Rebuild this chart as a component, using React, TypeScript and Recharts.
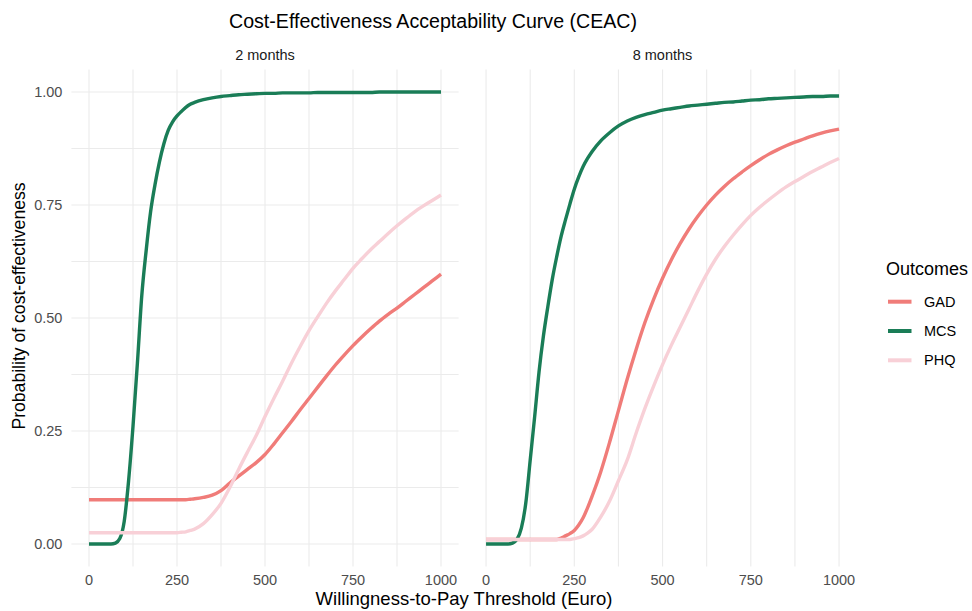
import React from 'react';
import { LineChart, Line, XAxis, YAxis, CartesianGrid } from 'recharts';

// willingness-to-pay thresholds (Euro), shared by every curve; denser where the curves turn fast
const THRESHOLDS = [
    0, 25,
    50, 62.5, 75, 87.5, 100, 112.5, 125, 137.5, 150, 162.5,
    175, 187.5, 200, 212.5, 225, 237.5, 250, 262.5, 275, 287.5,
    300,
    325, 350, 375, 400, 425, 450, 475,
    500, 525, 550, 575, 600, 625, 650, 675, 700, 725,
    750, 775, 800, 825, 850, 875, 900, 925, 950, 975,
    1000
];

// 2 months
const GAD_2M = [
    0.098, 0.098,
    0.098, 0.098, 0.098, 0.098, 0.098, 0.098, 0.098, 0.098, 0.098, 0.098,
    0.098, 0.098, 0.098, 0.098, 0.098, 0.098, 0.098, 0.098, 0.098, 0.099,
    0.1,
    0.103, 0.108, 0.118, 0.135, 0.15, 0.165, 0.18,
    0.198, 0.221, 0.246, 0.271, 0.297, 0.322, 0.347, 0.372, 0.396, 0.418,
    0.439, 0.458, 0.476, 0.493, 0.508, 0.522, 0.537, 0.552, 0.567, 0.582,
    0.597
];
const MCS_2M = [
    0, 0,
    0, 0, 0.002, 0.012, 0.05, 0.14, 0.26, 0.4, 0.55, 0.65,
    0.735, 0.795, 0.845, 0.885, 0.915, 0.934, 0.947, 0.957, 0.966, 0.973,
    0.977,
    0.983, 0.987, 0.99, 0.992, 0.994, 0.995, 0.996,
    0.997, 0.997, 0.998, 0.998, 0.998, 0.998, 0.999, 0.999, 0.999, 0.999,
    0.999, 0.999, 0.999, 1, 1, 1, 1, 1, 1, 1,
    1
];
const PHQ_2M = [
    0.025, 0.025,
    0.025, 0.025, 0.025, 0.025, 0.025, 0.025, 0.025, 0.025, 0.025, 0.025,
    0.025, 0.025, 0.025, 0.025, 0.025, 0.025, 0.025, 0.026, 0.027, 0.03,
    0.033,
    0.045, 0.065, 0.09, 0.125, 0.165, 0.203, 0.24,
    0.282, 0.322, 0.36, 0.4, 0.437, 0.472, 0.503, 0.533, 0.56, 0.585,
    0.61, 0.631, 0.651, 0.669, 0.687, 0.704, 0.72, 0.735, 0.748, 0.76,
    0.772
];

// 8 months
const GAD_8M = [
    0.01, 0.01,
    0.01, 0.01, 0.01, 0.01, 0.01, 0.01, 0.01, 0.01, 0.01, 0.01,
    0.01, 0.01, 0.01, 0.013, 0.018, 0.023, 0.03, 0.042, 0.058, 0.08,
    0.105,
    0.16, 0.225, 0.295, 0.365, 0.43, 0.49, 0.542,
    0.588, 0.629, 0.665, 0.697, 0.725, 0.75, 0.772, 0.791, 0.808, 0.823,
    0.837, 0.85, 0.862, 0.872, 0.881, 0.889, 0.896, 0.903, 0.909, 0.914,
    0.918
];
const MCS_8M = [
    0, 0,
    0, 0, 0.002, 0.01, 0.035, 0.09, 0.185, 0.28, 0.38, 0.46,
    0.525, 0.585, 0.635, 0.68, 0.717, 0.752, 0.785, 0.812, 0.835, 0.853,
    0.868,
    0.892, 0.91, 0.925, 0.936, 0.944, 0.95, 0.955,
    0.96, 0.963, 0.966, 0.969, 0.971, 0.973, 0.975, 0.977, 0.978, 0.98,
    0.982, 0.983, 0.985, 0.986, 0.987, 0.988, 0.989, 0.99, 0.99, 0.991,
    0.991
];
const PHQ_8M = [
    0.01, 0.01,
    0.01, 0.01, 0.01, 0.01, 0.01, 0.01, 0.01, 0.01, 0.01, 0.01,
    0.01, 0.01, 0.01, 0.01, 0.01, 0.01, 0.012, 0.014, 0.018, 0.024,
    0.032,
    0.06, 0.095, 0.14, 0.186, 0.245, 0.3, 0.35,
    0.397, 0.44, 0.48, 0.52, 0.56, 0.597, 0.63, 0.658, 0.683, 0.706,
    0.727, 0.745, 0.761, 0.776, 0.79, 0.802, 0.813, 0.824, 0.834, 0.844,
    0.853
];

// major + minor grid positions, only majors get a label
const X_TICKS = [0, 125, 250, 375, 500, 625, 750, 875, 1000];
const Y_TICKS = [0, 0.125, 0.25, 0.375, 0.5, 0.625, 0.75, 0.875, 1];

const SERIES = [
    { key: 'GAD', color: '#F07C79' },
    { key: 'MCS', color: '#1A7D57' },
    { key: 'PHQ', color: '#F8D0D7' }
];

const FONT = '"Liberation Sans", Arial, sans-serif';
const H = 611;

const rows2m = THRESHOLDS.map((t, i) => ({ t, GAD: GAD_2M[i], MCS: MCS_2M[i], PHQ: PHQ_2M[i] }));
const rows8m = THRESHOLDS.map((t, i) => ({ t, GAD: GAD_8M[i], MCS: MCS_8M[i], PHQ: PHQ_8M[i] }));

const fmtX = (v: number) => (v % 250 === 0 ? String(v) : '');
const fmtY = (v: number) => (Math.abs(v * 4 - Math.round(v * 4)) < 1e-9 ? v.toFixed(2) : '');

interface PanelProps {
    rows: any[];
    left: number;
    width: number;
    margin: { top: number; right: number; bottom: number; left: number };
    showY: boolean;
}

const Panel: React.FC<PanelProps> = ({ rows, left, width, margin, showY }) => (
    <div style={{ position: 'absolute', left, top: 0 }}>
        <LineChart width={width} height={H} data={rows} margin={margin}>
            <CartesianGrid stroke="#EBEBEB" strokeWidth={1.1} syncWithTicks />
            <XAxis
                type="number"
                dataKey="t"
                domain={[-50, 1050]}
                ticks={X_TICKS}
                interval={0}
                tickFormatter={fmtX}
                tickLine={false}
                axisLine={false}
                height={30}
                tick={{ fontSize: 14.5, fill: '#4D4D4D' }}
            />
            <YAxis
                type="number"
                domain={[-0.05, 1.05]}
                ticks={Y_TICKS}
                interval={0}
                tickFormatter={fmtY}
                tickLine={false}
                axisLine={false}
                width={showY ? 60 : 0}
                tickMargin={3}
                tick={showY ? { fontSize: 14.5, fill: '#4D4D4D' } : false}
            />
            {SERIES.map(s => (
                <Line
                    key={s.key}
                    dataKey={s.key}
                    type="monotone"
                    stroke={s.color}
                    strokeWidth={3.4}
                    dot={false}
                    isAnimationActive={false}
                />
            ))}
        </LineChart>
    </div>
);

export default function App() {
    return (
        <div style={{ position: 'absolute', left: 0, top: 0, width: 972, height: H, background: '#fff', fontFamily: FONT }}>
            <Panel rows={rows2m} left={0} width={462} showY margin={{ top: 69.4, right: 3.4, bottom: 14.4, left: 11.4 }} />
            <Panel rows={rows8m} left={462} width={400} showY={false} margin={{ top: 69.4, right: 5.3, bottom: 14.4, left: 6.4 }} />

            <svg width={972} height={H} style={{ position: 'absolute', left: 0, top: 0, pointerEvents: 'none' }} fontFamily={FONT}>
                <text x={433} y={27.5} textAnchor="middle" fontSize={19.6} fill="#000">
                    Cost-Effectiveness Acceptability Curve (CEAC)
                </text>
                <text x={265} y={60} textAnchor="middle" fontSize={14.5} fill="#1A1A1A">2 months</text>
                <text x={662.5} y={60} textAnchor="middle" fontSize={14.5} fill="#1A1A1A">8 months</text>
                <text x={464} y={605} textAnchor="middle" fontSize={18.5} fill="#000">
                    Willingness-to-Pay Threshold (Euro)
                </text>
                <text transform="translate(25,306) rotate(-90)" textAnchor="middle" fontSize={17.6} fill="#000">
                    Probability of cost-effectiveness
                </text>

                <text x={886} y={275} fontSize={18} fill="#000">Outcomes</text>
                {SERIES.map((s, i) => (
                    <g key={s.key}>
                        <line x1={888} x2={911.5} y1={301.7 + i * 29.3} y2={301.7 + i * 29.3} stroke={s.color} strokeWidth={4} />
                        <text x={924} y={306.7 + i * 29.3} fontSize={14.5} fill="#000">{s.key}</text>
                    </g>
                ))}
            </svg>
        </div>
    );
}
